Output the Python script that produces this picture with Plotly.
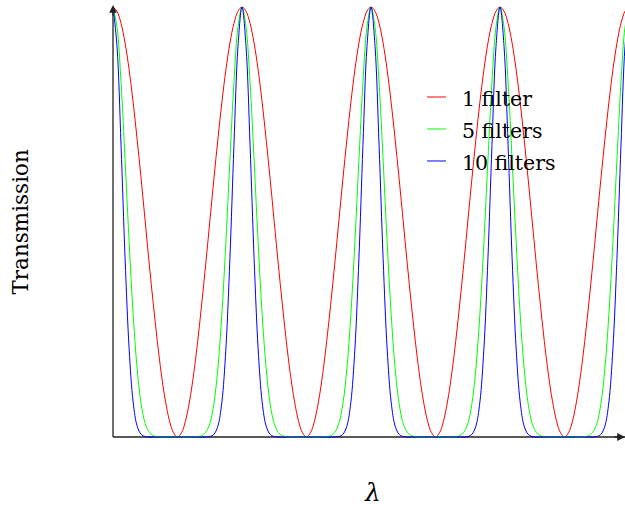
import plotly.graph_objects as go

# Sample positions along the wavelength axis (32 samples per fringe period)
lam = list(range(129))

# Transmission of a stack of identical filters
one_filter = [
    1.000, 0.990, 0.962, 0.916, 0.854, 0.778, 0.691, 0.598, 0.500, 0.402, 0.309, 0.222, 0.146, 0.084, 0.038, 0.010,
    0.000, 0.010, 0.038, 0.084, 0.146, 0.222, 0.309, 0.402, 0.500, 0.598, 0.691, 0.778, 0.854, 0.916, 0.962, 0.990,
    1.000, 0.990, 0.962, 0.916, 0.854, 0.778, 0.691, 0.598, 0.500, 0.402, 0.309, 0.222, 0.146, 0.084, 0.038, 0.010,
    0.000, 0.010, 0.038, 0.084, 0.146, 0.222, 0.309, 0.402, 0.500, 0.598, 0.691, 0.778, 0.854, 0.916, 0.962, 0.990,
    1.000, 0.990, 0.962, 0.916, 0.854, 0.778, 0.691, 0.598, 0.500, 0.402, 0.309, 0.222, 0.146, 0.084, 0.038, 0.010,
    0.000, 0.010, 0.038, 0.084, 0.146, 0.222, 0.309, 0.402, 0.500, 0.598, 0.691, 0.778, 0.854, 0.916, 0.962, 0.990,
    1.000, 0.990, 0.962, 0.916, 0.854, 0.778, 0.691, 0.598, 0.500, 0.402, 0.309, 0.222, 0.146, 0.084, 0.038, 0.010,
    0.000, 0.010, 0.038, 0.084, 0.146, 0.222, 0.309, 0.402, 0.500, 0.598, 0.691, 0.778, 0.854, 0.916, 0.962, 0.990,
    1.000,
]

five_filters = [
    1.000, 0.953, 0.824, 0.644, 0.453, 0.285, 0.158, 0.076, 0.031, 0.011, 0.003, 0.001, 0.000, 0.000, 0.000, 0.000,
    0.000, 0.000, 0.000, 0.000, 0.000, 0.001, 0.003, 0.011, 0.031, 0.076, 0.158, 0.285, 0.453, 0.644, 0.824, 0.953,
    1.000, 0.953, 0.824, 0.644, 0.453, 0.285, 0.158, 0.076, 0.031, 0.011, 0.003, 0.001, 0.000, 0.000, 0.000, 0.000,
    0.000, 0.000, 0.000, 0.000, 0.000, 0.001, 0.003, 0.011, 0.031, 0.076, 0.158, 0.285, 0.453, 0.644, 0.824, 0.953,
    1.000, 0.953, 0.824, 0.644, 0.453, 0.285, 0.158, 0.076, 0.031, 0.011, 0.003, 0.001, 0.000, 0.000, 0.000, 0.000,
    0.000, 0.000, 0.000, 0.000, 0.000, 0.001, 0.003, 0.011, 0.031, 0.076, 0.158, 0.285, 0.453, 0.644, 0.824, 0.953,
    1.000, 0.953, 0.824, 0.644, 0.453, 0.285, 0.158, 0.076, 0.031, 0.011, 0.003, 0.001, 0.000, 0.000, 0.000, 0.000,
    0.000, 0.000, 0.000, 0.000, 0.000, 0.001, 0.003, 0.011, 0.031, 0.076, 0.158, 0.285, 0.453, 0.644, 0.824, 0.953,
    1.000,
]

ten_filters = [
    1.000, 0.908, 0.678, 0.415, 0.205, 0.081, 0.025, 0.006, 0.001, 0.000, 0.000, 0.000, 0.000, 0.000, 0.000, 0.000,
    0.000, 0.000, 0.000, 0.000, 0.000, 0.000, 0.000, 0.000, 0.001, 0.006, 0.025, 0.081, 0.205, 0.415, 0.678, 0.908,
    1.000, 0.908, 0.678, 0.415, 0.205, 0.081, 0.025, 0.006, 0.001, 0.000, 0.000, 0.000, 0.000, 0.000, 0.000, 0.000,
    0.000, 0.000, 0.000, 0.000, 0.000, 0.000, 0.000, 0.000, 0.001, 0.006, 0.025, 0.081, 0.205, 0.415, 0.678, 0.908,
    1.000, 0.908, 0.678, 0.415, 0.205, 0.081, 0.025, 0.006, 0.001, 0.000, 0.000, 0.000, 0.000, 0.000, 0.000, 0.000,
    0.000, 0.000, 0.000, 0.000, 0.000, 0.000, 0.000, 0.000, 0.001, 0.006, 0.025, 0.081, 0.205, 0.415, 0.678, 0.908,
    1.000, 0.908, 0.678, 0.415, 0.205, 0.081, 0.025, 0.006, 0.001, 0.000, 0.000, 0.000, 0.000, 0.000, 0.000, 0.000,
    0.000, 0.000, 0.000, 0.000, 0.000, 0.000, 0.000, 0.000, 0.001, 0.006, 0.025, 0.081, 0.205, 0.415, 0.678, 0.908,
    1.000,
]

series_names = ["1 filter", "5 filters", "10 filters"]
series_colors = ["#ff0000", "#00ff00", "#0000ff"]
series_values = [one_filter, five_filters, ten_filters]

FONT = "DejaVu Serif"

fig = go.Figure()
for name, color, vals in zip(series_names, series_colors, series_values):
    fig.add_trace(go.Scatter(
        x=lam, y=vals, mode="lines", name=name,
        line=dict(color=color, width=1, shape="spline"),
        showlegend=False, hoverinfo="skip",
    ))

x_end = 127.0
fig.update_layout(
    width=625, height=509,
    margin=dict(l=111, r=0, t=5, b=70),
    paper_bgcolor="white", plot_bgcolor="white",
    xaxis=dict(range=[-0.496, x_end], showgrid=False, zeroline=False,
               showticklabels=False, ticks="", showline=False),
    yaxis=dict(range=[-0.00465, 1.00465], showgrid=False, zeroline=False,
               showticklabels=False, ticks="", showline=False),
    font=dict(family=FONT, size=21, color="black"),
)

# Axis lines with arrow heads
axis_color = "#222222"
fig.add_shape(type="line", xref="x", yref="y", x0=0, y0=0, x1=x_end, y1=0,
              line=dict(color=axis_color, width=1.3), layer="below")
fig.add_shape(type="line", xref="x", yref="y", x0=0, y0=0, x1=0, y1=1.0,
              line=dict(color=axis_color, width=1.3), layer="below")
fig.add_annotation(x=0, y=1.0046, xref="x", yref="y", ax=0, ay=12, text="",
                   showarrow=True, arrowhead=2, arrowsize=1.2, arrowwidth=1.3,
                   arrowcolor=axis_color)
fig.add_annotation(x=x_end, y=0, xref="x", yref="y", ax=-12, ay=0, text="",
                   showarrow=True, arrowhead=2, arrowsize=1.2, arrowwidth=1.3,
                   arrowcolor=axis_color)

# Axis titles
fig.add_annotation(x=-0.178, y=0.5, xref="paper", yref="paper", text="Transmission",
                   textangle=-90, showarrow=False, xanchor="center", yanchor="middle",
                   font=dict(family=FONT, size=21.5))
fig.add_annotation(x=0.508, y=-0.124, xref="paper", yref="paper", text="<i>λ</i>",
                   showarrow=False, xanchor="center", yanchor="middle",
                   font=dict(family=FONT, size=25))

# Legend entries
leg_y = [0.788, 0.7143, 0.6406]
for name, color, ly in zip(series_names, series_colors, leg_y):
    fig.add_shape(type="line", xref="paper", yref="paper",
                  x0=0.6148, x1=0.6518, y0=ly, y1=ly,
                  line=dict(color=color, width=1))
    fig.add_annotation(x=0.679, y=ly - 0.005, xref="paper", yref="paper", text=name,
                       showarrow=False, xanchor="left", yanchor="middle",
                       font=dict(family=FONT, size=20.5))

fig.write_html("out.html")
